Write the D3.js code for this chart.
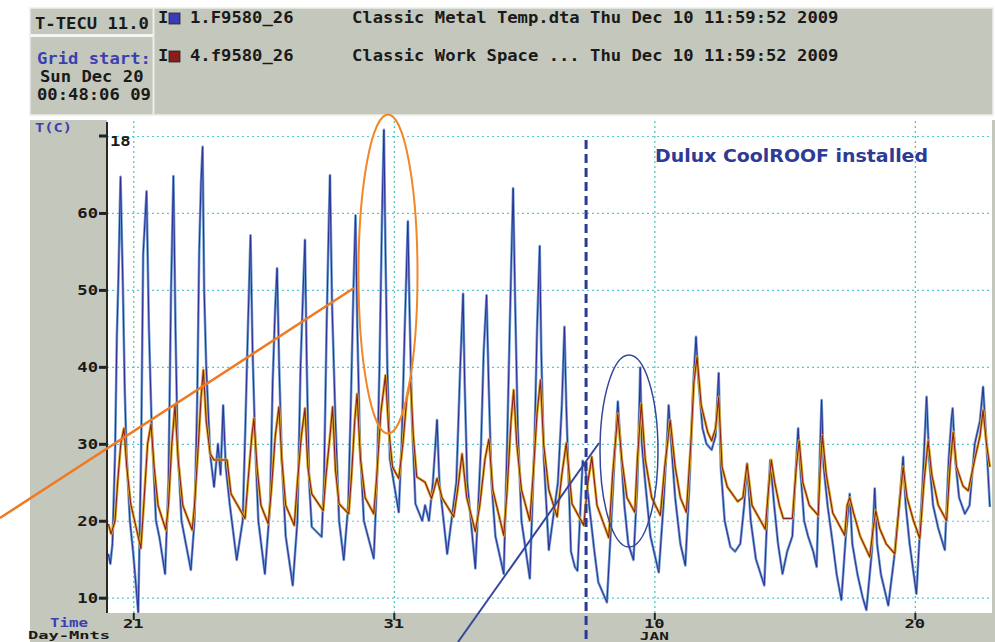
<!DOCTYPE html>
<html>
<head>
<meta charset="utf-8">
<script src="https://cdn.jsdelivr.net/npm/d3@7"></script>
<style>
  body { margin: 0; background: #fff; }
  svg { display: block; }
</style>
</head>
<body>
<div id="chart"></div>
<script>
// ---- data (time = days after Dec 21 2009 00:00, value = deg C) ----
const yTicks = [10, 20, 30, 40, 50, 60];
const gridValues = [10, 20, 30, 40, 50, 60, 70];
const topTick = 70;
const topTickLabel = "18";
const dayTicks = [0, 10, 20, 30];
const dayTickLabels = ["21", "31", "10", "20"];
const monthTickLabels = ["", "", "JAN", ""];
const startDay = -0.967;   // Sun Dec 20 00:48:06
const endDay = 33.0;
const installDay = 17.38;  // Dulux CoolROOF installed

const metalTemp = [
  [-0.96, 15.7], [-0.88, 14.4], [-0.8, 17], [-0.7, 28.7], [-0.63, 44], [-0.57, 51.7], [-0.49, 64.7],
  [-0.4, 50.7], [-0.33, 37.4], [-0.26, 28.7], [-0.13, 20], [0, 15.7], [0.19, 8.1],
  [0.3, 28.7], [0.38, 54.7], [0.51, 62.8], [0.6, 45], [0.7, 33], [0.87, 20], [1.0, 17.9], [1.22, 13.1],
  [1.35, 25], [1.45, 50], [1.54, 64.8], [1.62, 45], [1.7, 30], [1.85, 20], [2.21, 13.6],
  [2.35, 20], [2.45, 35], [2.53, 55], [2.6, 64], [2.66, 68.6], [2.72, 50], [2.8, 40], [2.95, 28.7],
  [3.1, 24.4], [3.25, 30], [3.35, 26], [3.45, 35], [3.55, 27], [3.7, 22.2], [3.97, 14.9],
  [4.2, 20], [4.3, 32], [4.4, 45], [4.5, 57.1], [4.58, 42], [4.68, 30], [4.8, 20], [5.05, 13.1],
  [5.25, 22], [5.35, 38], [5.45, 48], [5.52, 52.8], [5.6, 40], [5.7, 28], [5.85, 18], [6.12, 11.6],
  [6.3, 20], [6.42, 40], [6.52, 50], [6.59, 56.5], [6.66, 40], [6.75, 25], [6.85, 19.2], [7.23, 17.9],
  [7.32, 25], [7.42, 45], [7.5, 58], [7.55, 64.9], [7.63, 48], [7.76, 33], [7.9, 20], [8.08, 14.9],
  [8.25, 22], [8.35, 35], [8.45, 50], [8.53, 59.7], [8.6, 45], [8.7, 30], [8.85, 20], [9.23, 15.1],
  [9.35, 25], [9.45, 40], [9.55, 60], [9.62, 70.8], [9.68, 55], [9.75, 40], [9.85, 28], [10.19, 21.1],
  [10.3, 30], [10.42, 45], [10.54, 58.9], [10.6, 48], [10.7, 33], [10.83, 22.2], [11.09, 20], [11.2, 22], [11.35, 20],
  [11.5, 25], [11.66, 33.1], [11.75, 25], [12.05, 15.7],
  [12.4, 25], [12.55, 40], [12.66, 49.5], [12.72, 38], [12.82, 25], [13.13, 13.8],
  [13.35, 30], [13.45, 42], [13.56, 49.3], [13.64, 38], [13.75, 25], [13.9, 18], [14.22, 13.1],
  [14.35, 30], [14.45, 45], [14.52, 55], [14.58, 63.2], [14.66, 48], [14.76, 32], [14.9, 20], [15.22, 12.5],
  [15.4, 30], [15.5, 45], [15.6, 55.7], [15.66, 42], [15.76, 28], [15.95, 16.2],
  [16.3, 25], [16.45, 35], [16.55, 45.2], [16.62, 35], [16.7, 26.6], [16.8, 16], [16.95, 14], [17.05, 13.5],
  [17.14, 20], [17.25, 27.8], [17.35, 27], [17.5, 22], [17.7, 16], [17.85, 12], [18.18, 9.4],
  [18.35, 20], [18.5, 30], [18.6, 35.5], [18.7, 30], [18.85, 22], [19.0, 17], [19.2, 14.9],
  [19.35, 25], [19.46, 39.9], [19.52, 30], [19.65, 25], [19.85, 18], [20.17, 13.3],
  [20.35, 22], [20.48, 30], [20.55, 35], [20.65, 30], [20.8, 23], [21.0, 17], [21.19, 14.2],
  [21.35, 25], [21.5, 38], [21.6, 43.9], [21.7, 38], [21.85, 32], [22.0, 30], [22.2, 29.2], [22.35, 31],
  [22.47, 39.2], [22.55, 27], [22.7, 20], [22.92, 16.6],
  [23.1, 16], [23.3, 17], [23.45, 22], [23.56, 27.4], [23.7, 20], [23.9, 15], [24.22, 11.6],
  [24.35, 22], [24.45, 27.9], [24.6, 22], [24.75, 17], [24.92, 13.1],
  [25.1, 16], [25.3, 18], [25.42, 26], [25.52, 32], [25.6, 27], [25.75, 20], [25.9, 18], [26.1, 16], [26.23, 14],
  [26.35, 28], [26.42, 35.7], [26.5, 27], [26.65, 22], [26.85, 17], [27.0, 13], [27.18, 9.7],
  [27.35, 18], [27.5, 23.5], [27.6, 17], [27.8, 13], [28.0, 10], [28.14, 8.4],
  [28.35, 16], [28.46, 24.2], [28.55, 17], [28.7, 13], [28.98, 9],
  [29.2, 15], [29.4, 22], [29.55, 28.3], [29.65, 22], [29.8, 17], [30.06, 10.5],
  [30.3, 25], [30.45, 36.1], [30.55, 28], [30.7, 22], [30.9, 19], [31.15, 16.2],
  [31.3, 28], [31.4, 33], [31.45, 34.6], [31.55, 28], [31.7, 23], [31.92, 20.9],
  [32.1, 22], [32.3, 30], [32.5, 33], [32.62, 37.4], [32.75, 30], [32.88, 21.8]
];

const workTemp = [
  [-0.96, 19.6], [-0.85, 18.3], [-0.7, 20], [-0.6, 25], [-0.48, 30], [-0.36, 32], [-0.25, 27], [-0.1, 22.2], [0.05, 20], [0.29, 16.4],
  [0.4, 22], [0.55, 30], [0.68, 32.6], [0.8, 27], [0.95, 22], [1.25, 18.8],
  [1.35, 22], [1.48, 30], [1.6, 35], [1.72, 28], [1.9, 22], [2.26, 18.8],
  [2.35, 22], [2.5, 30], [2.6, 36], [2.69, 39.6], [2.8, 33], [2.95, 28.7], [3.1, 27.9], [3.6, 27.9], [3.75, 23.5], [4.29, 20.3],
  [4.4, 25], [4.55, 31], [4.63, 33.3], [4.75, 27], [4.9, 22], [5.18, 19.6],
  [5.3, 24], [5.45, 31], [5.59, 34.8], [5.7, 28], [5.85, 22], [6.18, 19.4],
  [6.3, 25], [6.45, 31], [6.59, 34.6], [6.7, 27], [6.85, 23.5], [7.29, 21.3],
  [7.4, 26], [7.55, 31], [7.65, 34.8], [7.76, 26.6], [7.9, 22.2], [8.27, 20.9],
  [8.38, 26], [8.5, 33], [8.59, 36.5], [8.72, 28], [8.9, 23], [9.23, 20.9],
  [9.35, 26], [9.5, 34], [9.68, 38.9], [9.8, 32], [9.95, 27], [10.19, 25.5],
  [10.35, 30], [10.5, 36], [10.64, 38.3], [10.75, 31], [10.88, 25.7], [11.2, 25], [11.45, 22.9], [11.66, 25.5], [11.85, 23], [12.3, 20.5],
  [12.45, 24], [12.62, 28.7], [12.8, 23], [13.13, 18.6],
  [13.3, 22], [13.5, 28], [13.65, 30.6], [13.8, 24], [14.22, 18.1],
  [14.35, 24], [14.5, 33], [14.6, 37], [14.72, 30], [14.9, 24], [15.22, 20],
  [15.35, 26], [15.5, 34], [15.63, 38.3], [15.75, 30], [15.95, 24], [16.27, 20.5],
  [16.45, 26], [16.62, 30.1], [16.84, 22.2], [17.29, 19.4],
  [17.45, 25], [17.6, 28.3], [17.8, 22], [18.25, 17.8],
  [18.4, 26], [18.6, 33.9], [18.75, 28], [18.95, 23], [19.25, 21.1],
  [19.35, 28], [19.5, 35.2], [19.65, 28], [19.9, 23], [20.23, 20.7],
  [20.4, 27], [20.61, 33.1], [20.8, 27], [21.0, 23], [21.23, 21.1],
  [21.4, 30], [21.52, 38], [21.64, 41.3], [21.8, 35], [22.05, 31.5], [22.2, 30.4], [22.35, 32], [22.47, 36.1],
  [22.6, 27], [22.8, 24.4], [23.2, 22.5], [23.4, 23], [23.56, 27.4], [23.75, 22], [24.26, 18.9],
  [24.38, 24], [24.49, 27.9], [24.62, 25], [24.8, 22], [24.95, 20.3], [25.3, 20.3], [25.45, 27], [25.56, 30.4],
  [25.7, 25], [25.95, 22], [26.29, 20.7],
  [26.37, 27], [26.45, 31.1], [26.6, 26], [26.85, 21], [27.31, 18.1],
  [27.4, 22], [27.5, 23], [27.65, 21], [27.9, 18], [28.27, 15.3],
  [28.4, 19], [28.5, 21.3], [28.65, 19], [28.9, 17], [29.23, 15.7],
  [29.4, 22], [29.55, 27], [29.7, 23], [29.95, 20], [30.19, 17.7],
  [30.35, 25], [30.51, 30.4], [30.65, 26], [30.9, 22], [31.22, 20],
  [31.35, 27], [31.47, 31.5], [31.6, 27], [31.85, 24.5], [32.05, 23.9],
  [32.3, 28], [32.5, 31], [32.62, 34.4], [32.75, 30], [32.88, 27]
];

// ---- layout ----
const width = 995, height = 642;
const plot = { left: 107, top: 120, right: 992, bottom: 613 };
const grey = "#c4c8bc";
const mono = "'DejaVu Sans Mono', 'Liberation Mono', monospace";
const charW = 10.35;

const svg = d3.select("#chart").append("svg")
  .attr("width", width).attr("height", height);

const x = d3.scaleLinear().domain([startDay, endDay]).range([108.1, 993]);
const y = d3.scaleLinear().domain([10, 70]).range([597.7, 136]);

// helper for the bold pixel-ish labels
function monoText(g, px, py, str, color, anchor, size) {
  return g.append("text")
    .attr("x", px).attr("y", py)
    .attr("font-family", mono).attr("font-weight", "bold").attr("font-size", size || 15)
    .attr("fill", color || "#1a1a1a")
    .attr("text-anchor", anchor || "start")
    .attr("textLength", str.length * charW)
    .attr("lengthAdjust", "spacingAndGlyphs")
    .text(str);
}

// ---- header panel ----
const header = svg.append("g");
header.append("rect").attr("x", 30).attr("y", 8).attr("width", 963).attr("height", 107)
  .attr("fill", grey).attr("stroke", "#eceee8").attr("stroke-width", 1.5);
header.append("line").attr("x1", 153.5).attr("x2", 153.5).attr("y1", 8).attr("y2", 115)
  .attr("stroke", "#eceee8").attr("stroke-width", 2);
header.append("line").attr("x1", 30).attr("x2", 153).attr("y1", 35.5).attr("y2", 35.5)
  .attr("stroke", "#f4f5f0").attr("stroke-width", 3);

monoText(header, 35, 29, "T-TECU 11.0");
monoText(header, 37, 64, "Grid start:", "#3b3fb0");
monoText(header, 40, 82, "Sun Dec 20");
monoText(header, 37, 100, "00:48:06 09");

const legendRows = [
  { y: 23, color: "#3a3ab8", name: "1.F9580_26", desc: "Classic Metal Temp.dta Thu Dec 10 11:59:52 2009" },
  { y: 61, color: "#8b1c1c", name: "4.f9580_26", desc: "Classic Work Space ... Thu Dec 10 11:59:52 2009" }
];
legendRows.forEach(r => {
  monoText(header, 158, r.y, "I");
  header.append("rect").attr("x", 169).attr("y", r.y - 10).attr("width", 11).attr("height", 11)
    .attr("fill", r.color).attr("stroke", "#222").attr("stroke-width", 0.8);
  monoText(header, 190, r.y, r.name);
  monoText(header, 352, r.y, r.desc);
});

// ---- plot frame ----
svg.append("rect").attr("x", 30).attr("y", plot.top).attr("width", width - 30).attr("height", height - plot.top)
  .attr("fill", grey);
svg.append("rect").attr("x", plot.left).attr("y", plot.top)
  .attr("width", plot.right - plot.left).attr("height", plot.bottom - plot.top)
  .attr("fill", "#fff");

svg.append("defs").append("clipPath").attr("id", "clip")
  .append("rect").attr("x", plot.left).attr("y", plot.top)
  .attr("width", plot.right - plot.left).attr("height", plot.bottom - plot.top);

// gridlines
svg.append("g")
  .attr("transform", `translate(${plot.left},0)`)
  .call(d3.axisLeft(y).tickValues(gridValues).tickSize(-(plot.right - plot.left)).tickFormat(""))
  .call(g => g.select(".domain").remove())
  .call(g => g.selectAll("line").attr("stroke", "#58c6d6").attr("stroke-width", 1.2).attr("stroke-dasharray", "2,3"));

svg.append("g")
  .attr("transform", `translate(0,${plot.bottom})`)
  .call(d3.axisBottom(x).tickValues(dayTicks).tickSize(-(plot.bottom - plot.top)).tickFormat(""))
  .call(g => g.select(".domain").remove())
  .call(g => g.selectAll("line").attr("stroke", "#4cc0b4").attr("stroke-width", 1.2).attr("stroke-dasharray", "2,3"));

// ---- series ----
const line = d3.line().x(d => x(d[0])).y(d => y(d[1]));
const series = svg.append("g").attr("clip-path", "url(#clip)");

series.append("path").datum(metalTemp).attr("d", line)
  .attr("fill", "none").attr("stroke", "#6e9ccf").attr("stroke-width", 2.6).attr("stroke-linejoin", "round");
series.append("path").datum(metalTemp).attr("d", line)
  .attr("fill", "none").attr("stroke", "#2c2e94").attr("stroke-width", 1).attr("stroke-linejoin", "round");

series.append("path").datum(workTemp).attr("d", line)
  .attr("fill", "none").attr("stroke", "#dcae30").attr("stroke-width", 2.8).attr("stroke-linejoin", "round");
series.append("path").datum(workTemp).attr("d", line)
  .attr("fill", "none").attr("stroke", "#8a2020").attr("stroke-width", 1.1).attr("stroke-linejoin", "round");

// ---- axes ----
const yAxis = svg.append("g")
  .attr("transform", `translate(${plot.left},0)`)
  .call(d3.axisLeft(y).tickValues(yTicks).tickSize(8).tickSizeOuter(0).tickPadding(1).tickFormat(""));
yAxis.select(".domain").remove();
yAxis.selectAll("line").attr("stroke", "#222").attr("stroke-width", 3);
yTicks.forEach(v => monoText(svg, 98, y(v) + 5, String(v), "#1a1a1a", "end", 14));

svg.append("line").attr("x1", plot.left).attr("x2", plot.left).attr("y1", 122).attr("y2", plot.bottom)
  .attr("stroke", "#2a2a22").attr("stroke-width", 2);
svg.append("line").attr("x1", 99).attr("x2", plot.left).attr("y1", y(topTick)).attr("y2", y(topTick))
  .attr("stroke", "#222").attr("stroke-width", 3);
monoText(svg, 110, y(topTick) + 10, topTickLabel, "#1a1a1a", "start", 14);

const xAxis = svg.append("g")
  .attr("transform", `translate(0,${plot.bottom})`)
  .call(d3.axisBottom(x).tickValues(dayTicks).tickSize(7).tickFormat(""));
xAxis.select(".domain").remove();
xAxis.selectAll("line").attr("stroke", "#222").attr("stroke-width", 2);
dayTicks.forEach((d, i) => {
  monoText(svg, x(d), 628, dayTickLabels[i], "#1a1a1a", "middle", 13);
  if (monthTickLabels[i]) monoText(svg, x(d), 639.5, monthTickLabels[i], "#1a1a1a", "middle", 10.5).attr("textLength", 29);
});

monoText(svg, 35, 132, "T(C)", "#3b3fb0", "start", 13).attr("textLength", 37);
monoText(svg, 50, 627, "Time", "#3b3fb0", "start", 12).attr("textLength", 38);
monoText(svg, 28, 639, "Day-Mnts", "#1a1a1a", "start", 11).attr("textLength", 82);

// ---- annotations ----
svg.append("line").attr("x1", x(installDay)).attr("x2", x(installDay)).attr("y1", 140).attr("y2", height)
  .attr("stroke", "#2b3a92").attr("stroke-width", 3).attr("stroke-dasharray", "9,5");

svg.append("text").attr("x", 655).attr("y", 162)
  .attr("font-family", "'DejaVu Sans', Verdana, sans-serif").attr("font-weight", "bold").attr("font-size", 18)
  .attr("fill", "#2e3a96").attr("textLength", 273).attr("lengthAdjust", "spacingAndGlyphs")
  .text("Dulux CoolROOF installed");

svg.append("ellipse").attr("cx", 388).attr("cy", 274).attr("rx", 29.5).attr("ry", 159.5)
  .attr("fill", "none").attr("stroke", "#f0882a").attr("stroke-width", 2);
svg.append("line").attr("x1", 0).attr("y1", 518).attr("x2", 354).attr("y2", 288)
  .attr("stroke", "#f07a22").attr("stroke-width", 2.5);

svg.append("ellipse").attr("cx", 629).attr("cy", 451).attr("rx", 29).attr("ry", 96)
  .attr("fill", "none").attr("stroke", "#34479a").attr("stroke-width", 1.5);
svg.append("line").attr("x1", 458).attr("y1", 642).attr("x2", 599).attr("y2", 443)
  .attr("stroke", "#34479a").attr("stroke-width", 2);
</script>
</body>
</html>
